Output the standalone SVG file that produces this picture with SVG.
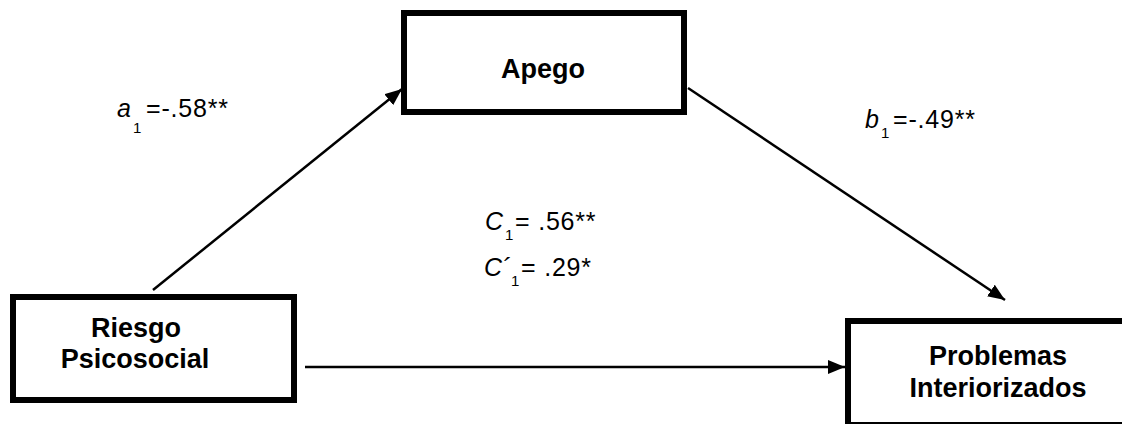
<svg xmlns="http://www.w3.org/2000/svg" width="1122" height="424" viewBox="0 0 1122 424">
<style>
.box{fill:#fff;stroke:#000;stroke-width:6}
.node{font-family:"Liberation Sans",Arial,sans-serif;font-weight:bold;font-size:27px;fill:#000;text-anchor:middle}
.lbl{font-family:"Liberation Sans",Arial,sans-serif;font-size:25px;fill:#000}
.val{letter-spacing:0.8px}
.sub{font-size:15px}
.conn{stroke:#000;stroke-width:2.5;fill:none;marker-end:url(#ah)}
</style>
<defs>
<marker id="ah" markerUnits="userSpaceOnUse" markerWidth="18" markerHeight="14" refX="17" refY="7" orient="auto">
<path d="M0,0 L17,7 L0,14 z" fill="#000"/>
</marker>
</defs>
<rect width="1122" height="424" fill="#fff"/>
<g id="connectors">
<line class="conn" x1="153" y1="290" x2="402" y2="89"/>
<line class="conn" x1="688" y1="88" x2="1005" y2="300"/>
<line class="conn" x1="305" y1="367" x2="845" y2="367"/>
</g>
<g id="apego">
<rect class="box" x="404" y="13" width="280" height="99"/>
<text class="node" x="543" y="78">Apego</text>
</g>
<g id="riesgo">
<rect class="box" x="13" y="297" width="281" height="103"/>
<text class="node" x="136" y="337">Riesgo</text>
<text class="node" x="135" y="368">Psicosocial</text>
</g>
<g id="problemas">
<rect class="box" x="848" y="321" width="290" height="104"/>
<text class="node" x="998" y="365">Problemas</text>
<text class="node" x="998" y="397">Interiorizados</text>
</g>
<g id="labels">
<text class="lbl" y="117"><tspan x="117" font-style="italic">a</tspan><tspan class="sub" x="133" y="133">1</tspan><tspan class="val" x="146" y="117">=-.58**</tspan></text>
<text class="lbl" y="128"><tspan x="865" font-style="italic">b</tspan><tspan class="sub" x="881" y="138">1</tspan><tspan class="val" x="893" y="128">=-.49**</tspan></text>
<text class="lbl" y="230"><tspan x="485" font-style="italic">C</tspan><tspan class="sub" x="505" y="240">1</tspan><tspan class="val" x="515" y="230">= .56**</tspan></text>
<text class="lbl" y="276"><tspan x="484" font-style="italic">C´</tspan><tspan class="sub" x="511" y="286">1</tspan><tspan class="val" x="521" y="276">= .29*</tspan></text>
</g>
</svg>
